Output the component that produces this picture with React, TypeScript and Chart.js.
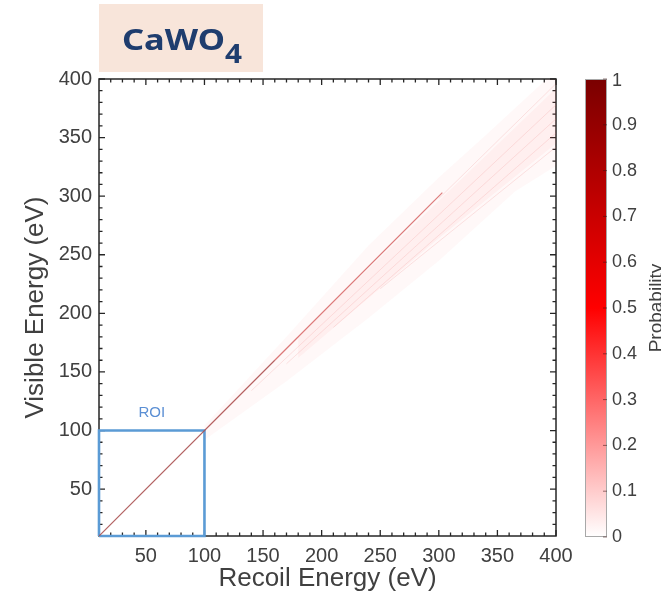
import React, { useEffect, useRef } from "react";
import { Chart, registerables } from "chart.js";

Chart.register(...registerables);

// ---------- text ----------
const titleMain = "CaWO";
const titleSub = "4";
const xAxisTitle = "Recoil Energy (eV)";
const yAxisTitle = "Visible Energy (eV)";
const colorbarTitle = "Probability";
const roiLabel = "ROI";

// ---------- axes ----------
const axisMin = 10;
const axisMax = 400;
const xTickValues = [50, 100, 150, 200, 250, 300, 350, 400];
const yTickValues = [50, 100, 150, 200, 250, 300, 350, 400];
const minorTickValues = [
  20, 30, 40, 60, 70, 80, 90, 110, 120, 130, 140, 160, 170, 180, 190, 210, 220,
  230, 240, 260, 270, 280, 290, 310, 320, 330, 340, 360, 370, 380, 390,
];
const cbTickValues = [0, 0.1, 0.2, 0.3, 0.4, 0.5, 0.6, 0.7, 0.8, 0.9, 1];
const cbTickLabels = ["0", "0.1", "0.2", "0.3", "0.4", "0.5", "0.6", "0.7", "0.8", "0.9", "1"];

// ---------- data ----------
// main diagonal (visible = recoil)
const diagLowX = [10, 160];
const diagLowY = [10, 160];
const diagHighX = [160, 303];
const diagHighY = [160, 303];
// faint outer probability band (polygon)
const bandOuterX = [100, 170, 240, 300, 340, 392, 400, 400, 365, 300, 240, 170, 100, 100];
const bandOuterY = [104, 180, 258, 316, 352, 400, 400, 326, 304, 245, 196, 142, 92, 104];
// slightly denser core of the band (polygon)
const bandCoreX = [180, 300, 400, 400, 300, 180, 180];
const bandCoreY = [180, 296, 392, 345, 264, 162, 180];
// faint streaks inside the band
const streakStartX = [140, 170, 210, 250, 300];
const streakStartY = [134, 157, 188, 221, 298];
const streakEndX = [400, 400, 400, 400, 400];
const streakEndY = [378, 366, 354, 342, 396];
// region of interest box
const roiX = [10, 10, 100, 100, 10];
const roiY = [10, 100, 100, 10, 10];
const roiLabelX = 55;
const roiLabelY = 115;

const FONT = "'Liberation Sans', Arial, sans-serif";
const TEXT_COLOR = "#404040";

function pts(xs: number[], ys: number[]) {
  return xs.map((x, i) => ({ x, y: ys[i] }));
}

const decorPlugin = {
  id: "decor",
  beforeDatasetsDraw(chart: any) {
    const { ctx, chartArea: a, scales } = chart;
    const xs = scales.x;
    const ys = scales.y;
    ctx.save();
    ctx.strokeStyle = "#262626";
    ctx.lineWidth = 1.5;
    ctx.strokeRect(a.left, a.top, a.right - a.left, a.bottom - a.top);
    const tick = (vals: number[], len: number) => {
      ctx.beginPath();
      vals.forEach((v) => {
        const px = xs.getPixelForValue(v);
        ctx.moveTo(px, a.bottom);
        ctx.lineTo(px, a.bottom - len);
        ctx.moveTo(px, a.top);
        ctx.lineTo(px, a.top + len);
        const py = ys.getPixelForValue(v);
        ctx.moveTo(a.left, py);
        ctx.lineTo(a.left + len, py);
        ctx.moveTo(a.right, py);
        ctx.lineTo(a.right - len, py);
      });
      ctx.stroke();
    };
    ctx.lineWidth = 1.3;
    tick(xTickValues, 6);
    tick(minorTickValues, 3.5);
    ctx.restore();
  },
  afterDraw(chart: any) {
    const { ctx, chartArea: a, scales } = chart;
    ctx.save();

    // title box
    ctx.fillStyle = "#f8e5da";
    ctx.fillRect(99, 4, 164, 68);
    ctx.fillStyle = "#1f3d6e";
    ctx.font = `bold 29px 'Noto Sans', 'Liberation Sans', sans-serif`;
    ctx.textBaseline = "alphabetic";
    ctx.textAlign = "left";
    const w = ctx.measureText(titleMain).width;
    ctx.save();
    ctx.translate(122, 50);
    ctx.scale(103 / w, 1);
    ctx.fillText(titleMain, 0, 0);
    ctx.restore();
    ctx.font = `bold 27px 'Noto Sans', 'Liberation Sans', sans-serif`;
    const w4 = ctx.measureText(titleSub).width;
    ctx.save();
    ctx.translate(225, 63);
    ctx.scale(17 / w4, 1);
    ctx.fillText(titleSub, 0, 0);
    ctx.restore();

    // axis titles
    ctx.fillStyle = TEXT_COLOR;
    ctx.font = `26px ${FONT}`;
    ctx.textAlign = "center";
    ctx.textBaseline = "alphabetic";
    ctx.fillText(xAxisTitle, (a.left + a.right) / 2, 586);
    ctx.save();
    ctx.translate(43, (a.top + a.bottom) / 2);
    ctx.rotate(-Math.PI / 2);
    ctx.fillText(yAxisTitle, 0, 0);
    ctx.restore();

    // ROI label
    ctx.fillStyle = "#5b8fd4";
    ctx.font = `15px ${FONT}`;
    ctx.textAlign = "center";
    ctx.textBaseline = "middle";
    ctx.fillText(roiLabel, scales.x.getPixelForValue(roiLabelX), scales.y.getPixelForValue(roiLabelY));

    // colorbar
    const cbL = 585;
    const cbR = 607;
    const cbT = a.top;
    const cbB = a.bottom + 1;
    const g = ctx.createLinearGradient(0, cbB, 0, cbT);
    g.addColorStop(0, "#ffffff");
    g.addColorStop(0.5, "#ff0000");
    g.addColorStop(1, "#7a0000");
    ctx.fillStyle = g;
    ctx.fillRect(cbL, cbT, cbR - cbL, cbB - cbT);
    ctx.strokeStyle = "#a8a8a8";
    ctx.lineWidth = 1;
    ctx.strokeRect(cbL + 0.5, cbT + 0.5, cbR - cbL - 1, cbB - cbT - 1);
    ctx.fillStyle = TEXT_COLOR;
    ctx.font = `18px ${FONT}`;
    ctx.textAlign = "left";
    ctx.textBaseline = "middle";
    ctx.strokeStyle = "rgba(60,20,20,0.55)";
    ctx.lineWidth = 1;
    cbTickValues.forEach((v, i) => {
      const py = cbB - v * (cbB - cbT);
      ctx.beginPath();
      ctx.moveTo(cbR - 4, py);
      ctx.lineTo(cbR, py);
      ctx.stroke();
      ctx.fillText(cbTickLabels[i], 612, py + (i === cbTickValues.length - 1 ? 2 : 0));
    });
    ctx.save();
    ctx.translate(662, (cbT + cbB) / 2);
    ctx.rotate(-Math.PI / 2);
    ctx.font = `19px ${FONT}`;
    ctx.textAlign = "center";
    ctx.textBaseline = "alphabetic";
    ctx.fillText(colorbarTitle, 0, 0);
    ctx.restore();

    ctx.restore();
  },
};

export default function App() {
  const ref = useRef<HTMLCanvasElement | null>(null);
  useEffect(() => {
    if (!ref.current) return;
    const line = (xs: number[], ys: number[], color: string, width: number, extra: any = {}) => ({
      data: pts(xs, ys),
      showLine: true,
      borderColor: color,
      borderWidth: width,
      pointRadius: 0,
      fill: false,
      ...extra,
    });
    const datasets: any[] = [
      line(bandOuterX, bandOuterY, "rgba(0,0,0,0)", 0, {
        fill: "shape",
        backgroundColor: "rgba(255,90,90,0.045)",
      }),
      line(bandCoreX, bandCoreY, "rgba(0,0,0,0)", 0, {
        fill: "shape",
        backgroundColor: "rgba(255,80,80,0.05)",
      }),
      ...streakStartX.map((sx, i) =>
        line([sx, streakEndX[i]], [streakStartY[i], streakEndY[i]], "rgba(235,110,110,0.18)", 1)
      ),
      line(diagLowX, diagLowY, "rgba(170,80,80,0.9)", 1.2),
      line(diagHighX, diagHighY, "rgba(210,90,90,0.8)", 1.2),
      line(roiX, roiY, "#5b9bd5", 2.6, { clip: 4 }),
    ];
    const chart = new Chart(ref.current, {
      type: "scatter",
      data: { datasets },
      options: {
        animation: false,
        responsive: true,
        maintainAspectRatio: false,
        layout: { padding: { top: 79, right: 105, left: 0, bottom: 0 } },
        plugins: { legend: { display: false }, tooltip: { enabled: false } },
        scales: {
          x: {
            type: "linear",
            min: axisMin,
            max: axisMax,
            afterBuildTicks: (s: any) => {
              s.ticks = xTickValues.map((v) => ({ value: v }));
            },
            afterFit: (s: any) => {
              s.height = 67;
            },
            grid: { display: false, drawTicks: false },
            border: { display: false },
            ticks: {
              font: { family: FONT, size: 20 },
              color: TEXT_COLOR,
              padding: 8,
              maxRotation: 0,
              autoSkip: false,
            },
          },
          y: {
            type: "linear",
            min: axisMin,
            max: axisMax,
            afterBuildTicks: (s: any) => {
              s.ticks = yTickValues.map((v) => ({ value: v }));
            },
            afterFit: (s: any) => {
              s.width = 99;
            },
            grid: { display: false, drawTicks: false },
            border: { display: false },
            ticks: {
              font: { family: FONT, size: 20 },
              color: TEXT_COLOR,
              padding: 7,
              autoSkip: false,
            },
          },
        },
      },
      plugins: [decorPlugin],
    });
    return () => chart.destroy();
  }, []);
  return (
    <div style={{ position: "fixed", left: 0, top: 0, width: 661, height: 603, background: "#fff" }}>
      <canvas ref={ref} />
    </div>
  );
}
